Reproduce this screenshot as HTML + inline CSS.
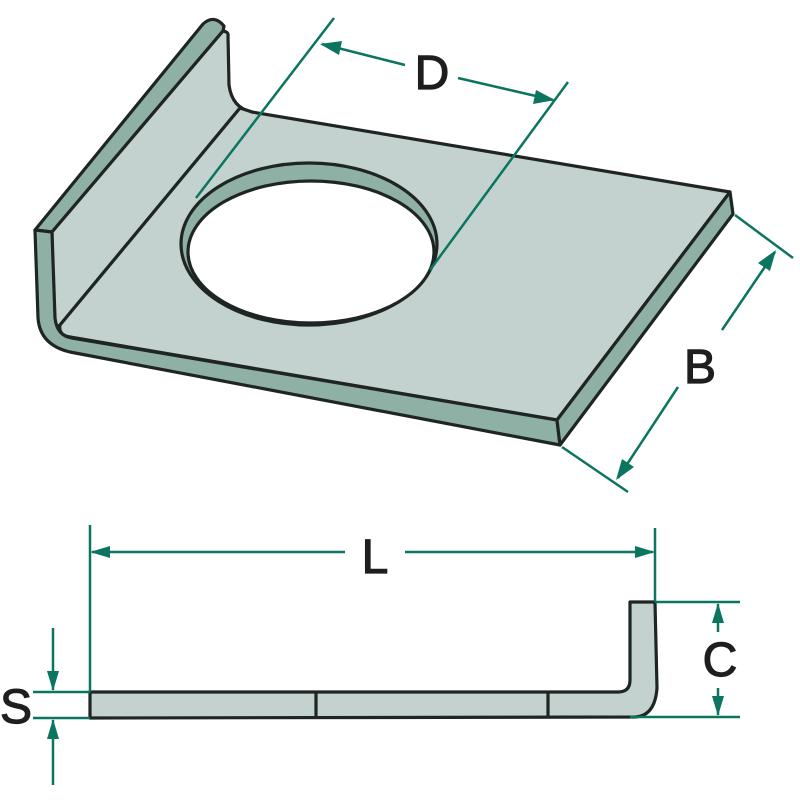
<!DOCTYPE html>
<html><head><meta charset="utf-8"><style>html,body{margin:0;padding:0;background:#fff}</style></head>
<body>
<svg width="800" height="800" viewBox="0 0 800 800" xmlns="http://www.w3.org/2000/svg">
<g stroke="#1e2523" stroke-width="3.2" stroke-linejoin="round">
<path d="M35,230 L203,24 Q214,14 224,26 L223,31 L52,232 Z" fill="#8fb0a5"/>
<path d="M52,232 L223,31 Q229,32 228,36 L229,85 Q232,108 252,112 L240,108 L60,325 Q54,330 52,320 Z" fill="#c3d2cf"/>
<path d="M60,325 L240,108 L252,112 L730,192 L557,420 L70,337 Q58,335 60,325 Z" fill="#c3d2cf"/>
<path d="M35,230 L52,232 L55,318 Q57,336 72,338 L557,420 L560,445 L70,352 Q40,345 38,318 Z" fill="#8fb0a5"/>
<path d="M557,420 L730,192 L733,214 L560,445 Z" fill="#8fb0a5"/>
<ellipse cx="309" cy="244" rx="128" ry="81" fill="#8fb0a5"/>
<ellipse cx="311" cy="252" rx="123" ry="71" fill="#fff"/>
<path d="M90,692 L618,692 Q630,692 630,680 L630,602 L655,602 L657,688 Q655,716 635,717 L90,718 Z" fill="#c3d2cf"/>
<line x1="316" y1="692" x2="316" y2="718"/>
<line x1="548" y1="692" x2="548" y2="718"/>
</g>
<g stroke="#0b7560" stroke-width="2.5" fill="none">
<line x1="196" y1="198" x2="334" y2="18"/>
<line x1="430" y1="270" x2="568" y2="82"/>
<line x1="322" y1="44" x2="405" y2="65"/>
<line x1="458" y1="78" x2="553" y2="100"/>
<line x1="735" y1="215" x2="793" y2="258"/>
<line x1="562" y1="447" x2="628" y2="492"/>
<line x1="775" y1="252" x2="722" y2="330"/>
<line x1="678" y1="387" x2="618" y2="478"/>
<line x1="90" y1="525" x2="90" y2="692"/>
<line x1="655" y1="528" x2="655" y2="602"/>
<line x1="92" y1="552" x2="345" y2="552"/>
<line x1="405" y1="552" x2="653" y2="552"/>
<line x1="655" y1="602" x2="740" y2="602"/>
<line x1="630" y1="717" x2="740" y2="717"/>
<line x1="718" y1="604" x2="718" y2="632"/>
<line x1="718" y1="688" x2="718" y2="715"/>
<line x1="33" y1="692" x2="90" y2="692"/>
<line x1="33" y1="718" x2="90" y2="718"/>
<line x1="53" y1="628" x2="53" y2="690"/>
<line x1="53" y1="720" x2="53" y2="785"/>
</g>
<g fill="#0b7560">
<polygon points="320,44 342,41 339,55"/>
<polygon points="555,100 533,104 536,90"/>
<polygon points="776,250 770,271 758,263"/>
<polygon points="616,480 622,459 634,467"/>
<polygon points="90,552 110,546 110,558"/>
<polygon points="655,552 635,546 635,558"/>
<polygon points="718,603 712,623 724,623"/>
<polygon points="718,716 712,696 724,696"/>
<polygon points="53,691 47,671 59,671"/>
<polygon points="53,719 47,739 59,739"/>
</g>
<g font-family="Liberation Sans, sans-serif" font-size="48" fill="#1e1e1e" stroke="#1e1e1e" stroke-width="1.2" text-anchor="middle">
<text x="432" y="89">D</text>
<text x="700" y="383">B</text>
<text x="375" y="573">L</text>
<text x="720" y="676">C</text>
<text x="16" y="723">S</text>
</g>
</svg>
</body></html>
